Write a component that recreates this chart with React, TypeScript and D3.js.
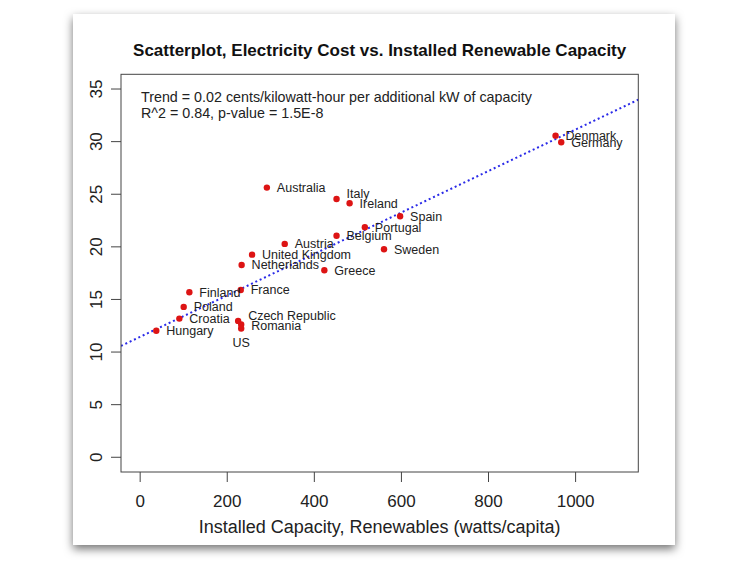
import React from "react";
import * as d3 from "d3";

// installed renewable capacity (watts/capita) vs electricity cost (cents/kWh)
const countries = [
  "Denmark", "Germany", "Australia", "Italy", "Ireland", "Spain", "Portugal",
  "Belgium", "Austria", "Sweden", "United Kingdom", "Netherlands", "Greece",
  "France", "Finland", "Poland", "Croatia", "Czech Republic", "US", "Romania",
  "Hungary",
];
const capacity = [
  954, 967, 291, 451, 481, 597, 516, 451, 332, 560, 257, 233, 423, 231, 113,
  100, 90, 225, 232, 232, 37,
];
const cost = [
  30.57, 29.94, 25.63, 24.55, 24.14, 22.91, 21.86, 21.06, 20.28, 19.77, 19.26,
  18.28, 17.78, 15.9, 15.68, 14.29, 13.18, 12.96, 12.62, 12.24, 12.03,
];

const xTicks = [0, 200, 400, 600, 800, 1000];
const yTicks = [0, 5, 10, 15, 20, 25, 30, 35];

// fitted trend
const trendIntercept = 11.45;
const trendSlope = 0.0197;

const titleText = "Scatterplot, Electricity Cost vs. Installed Renewable Capacity";
const noteLines = [
  "Trend = 0.02 cents/kilowatt-hour per additional kW of capacity",
  "R^2 = 0.84, p-value = 1.5E-8",
];
const xTitle = "Installed Capacity, Renewables (watts/capita)";

// small label nudges (px) where the original labels sit off-centre
const labelNudge: Record<string, number> = {
  Italy: -5,
  "Czech Republic": -5,
  Romania: -3,
};

const font = "'Liberation Sans', Arial, Helvetica, sans-serif";
const ink = "#222";

export default function App() {
  const box = { left: 121, right: 638.3, top: 74.3, bottom: 472 };

  const x = d3.scaleLinear().domain([-44, 1144]).range([box.left, box.right]);
  const y = d3.scaleLinear().domain([-1.4, 36.4]).range([box.bottom, box.top]);

  const [xd0, xd1] = x.domain();
  const trend = d3
    .line<number>()
    .x((d) => x(d))
    .y((d) => y(trendIntercept + trendSlope * d));

  return (
    <svg
      width={750}
      height={584}
      style={{ position: "absolute", left: 0, top: 0, display: "block", background: "#fff" }}
      fontFamily={font}
    >
      <defs>
        <filter id="shadow" x="-10%" y="-10%" width="120%" height="120%">
          <feDropShadow dx="0" dy="4" stdDeviation="5" floodColor="#000" floodOpacity="0.55" />
        </filter>
        <clipPath id="plotClip">
          <rect x={box.left} y={box.top} width={box.right - box.left} height={box.bottom - box.top} />
        </clipPath>
      </defs>

      {/* card */}
      <rect x={73} y={14} width={602} height={531} fill="#fff" filter="url(#shadow)" />

      <text x={(box.left + box.right) / 2} y={56} textAnchor="middle" fontWeight="bold" fontSize={17} fill="#111">
        {titleText}
      </text>

      {/* trend line */}
      <path
        d={trend([xd0, xd1]) || ""}
        clipPath="url(#plotClip)"
        fill="none"
        stroke="#2a2ae8"
        strokeWidth={2}
        strokeDasharray="2 2.8"
      />

      {/* points */}
      {countries.map((c, i) => (
        <circle key={c} cx={x(capacity[i])} cy={y(cost[i])} r={3.2} fill="#dd1414" />
      ))}

      {/* labels */}
      {countries.map((c, i) => {
        const px = x(capacity[i]);
        const py = y(cost[i]);
        if (c === "US") {
          return (
            <text key={c} x={px} y={py + 23} textAnchor="middle" fontSize={12.5} fill={ink}>
              {c}
            </text>
          );
        }
        return (
          <text key={c} x={px + 10} y={py + (labelNudge[c] || 0)} dy="0.36em" fontSize={12.5} fill={ink}>
            {c}
          </text>
        );
      })}

      {/* annotation */}
      {noteLines.map((t, i) => (
        <text key={i} x={141} y={102 + i * 16} fontSize={14.3} fill={ink}>
          {t}
        </text>
      ))}

      {/* frame */}
      <rect
        x={box.left}
        y={box.top}
        width={box.right - box.left}
        height={box.bottom - box.top}
        fill="none"
        stroke="#444"
        strokeWidth={1}
      />

      {/* x axis */}
      <g>
        {xTicks.map((t) => (
          <g key={t}>
            <line x1={x(t)} x2={x(t)} y1={box.bottom} y2={box.bottom + 10} stroke="#444" />
            <text x={x(t)} y={507} textAnchor="middle" fontSize={17} fill={ink}>
              {t}
            </text>
          </g>
        ))}
      </g>
      <text x={(box.left + box.right) / 2} y={533} textAnchor="middle" fontSize={18} fill={ink}>
        {xTitle}
      </text>

      {/* y axis */}
      <g>
        {yTicks.map((t) => (
          <g key={t}>
            <line x1={box.left - 10} x2={box.left} y1={y(t)} y2={y(t)} stroke="#444" />
            <text
              transform={`translate(102,${y(t)}) rotate(-90)`}
              textAnchor="middle"
              fontSize={17}
              fill={ink}
            >
              {t}
            </text>
          </g>
        ))}
      </g>
    </svg>
  );
}
